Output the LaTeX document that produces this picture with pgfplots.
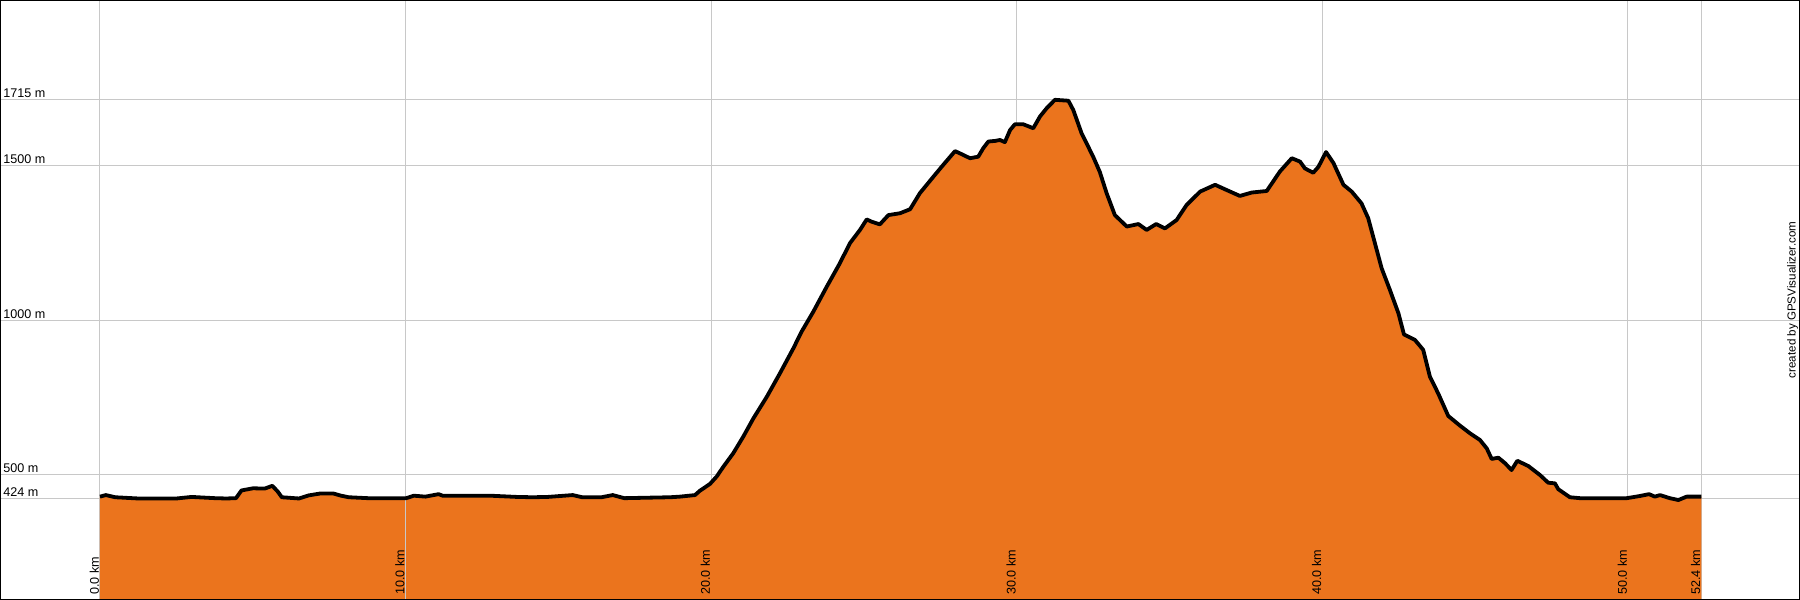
\documentclass[border=0pt]{standalone}
\usepackage{pgfplots}
\usepackage{pgfplotstable}
\pgfplotsset{compat=1.18}
\usepackage{fontspec}
\setmainfont{Liberation Sans}
\definecolor{fillor}{RGB}{235,116,29}
\definecolor{gridc}{RGB}{200,200,200}
\pgfplotstableread{
km elev
0 430
0.19 435
0.50 428
1.25 424
2.50 424
3.00 429
3.76 425
4.13 424
4.45 425
4.63 450
5.01 457
5.39 456
5.64 465
5.82 446
5.95 428
6.51 424
6.83 434
7.20 440
7.64 440
7.89 433
8.14 428
8.77 425
10.02 425
10.27 433
10.65 430
11.08 438
11.21 433
11.90 433
12.77 433
13.65 429
14.15 428
14.65 429
15.47 435
15.78 428
16.41 428
16.78 435
17.16 425
18.66 428
18.98 430
19.47 435
19.63 449
19.96 471
20.18 495
20.40 527
20.72 570
21.05 624
21.38 683
21.82 753
22.25 829
22.69 910
22.96 964
23.34 1028
23.78 1109
24.21 1185
24.54 1250
24.87 1293
25.09 1327
25.24 1320
25.52 1311
25.80 1341
26.18 1347
26.51 1360
26.83 1412
27.27 1465
27.59 1503
27.98 1548
28.20 1538
28.47 1525
28.74 1530
28.90 1557
29.07 1579
29.29 1581
29.45 1584
29.61 1577
29.78 1616
29.94 1635
30.21 1635
30.54 1622
30.76 1660
30.98 1687
31.25 1714
31.69 1711
31.85 1681
32.12 1606
32.50 1530
32.72 1480
32.94 1412
33.21 1341
33.60 1304
33.98 1312
34.25 1293
34.56 1312
34.85 1298
35.23 1325
35.56 1374
36.00 1417
36.49 1439
36.87 1422
37.30 1403
37.69 1414
38.18 1419
38.61 1482
39.00 1525
39.27 1514
39.43 1492
39.70 1478
39.87 1497
40.12 1545
40.36 1510
40.69 1439
40.96 1417
41.28 1379
41.50 1331
41.72 1250
41.94 1169
42.21 1099
42.49 1023
42.67 955
43.03 937
43.30 905
43.52 818
43.79 764
44.12 691
44.50 660
44.83 635
45.16 613
45.38 586
45.54 552
45.76 556
45.98 538
46.19 516
46.38 546
46.74 529
47.12 500
47.39 475
47.61 473
47.72 454
48.10 428
48.43 425
49.96 425
50.39 432
50.69 438
50.88 430
51.05 435
51.37 425
51.65 419
51.92 430
52.40 430
}\prof
\newcommand{\lbl}{\fontsize{6.3}{7}\selectfont}
\begin{document}
\begin{tikzpicture}
\begin{axis}[
 at={(0,0)}, anchor=south west,
 scale only axis, width=900pt, height=300pt,
 xmin=-3.272, xmax=55.63, ymin=95.5, ymax=2037,
 xtick={0,10,20,30,40,50,52.4}, ytick={424,500,1000,1500,1715},
 xticklabels={}, yticklabels={}, major tick length=0pt,
 grid=major, grid style={gridc, line width=0.5pt},
 axis line style={black, line width=1pt},
 clip=true,
]
\addplot[fill=fillor, draw=none] table[x=km,y=elev] {\prof} \closedcycle;
\draw[gridc, line width=0.5pt] (axis cs:10,95.5) -- (axis cs:10,424);
\addplot[black, line width=1.9pt, line join=round] table[x=km,y=elev] {\prof};
\pgfplotsinvokeforeach{424,500,1000,1500,1715}{
  \node[anchor=base west, inner sep=0pt, font=\lbl] at ([xshift=1.5pt,yshift=1pt]axis cs:-3.272,#1) {#1 m};
}
\node[rotate=90, anchor=base west, inner sep=0pt, font=\lbl] at ([xshift=-0.6pt,yshift=2.5pt]axis cs:0,95.5) {0.0 km};
\node[rotate=90, anchor=base west, inner sep=0pt, font=\lbl] at ([xshift=-0.6pt,yshift=2.5pt]axis cs:10,95.5) {10.0 km};
\node[rotate=90, anchor=base west, inner sep=0pt, font=\lbl] at ([xshift=-0.6pt,yshift=2.5pt]axis cs:20,95.5) {20.0 km};
\node[rotate=90, anchor=base west, inner sep=0pt, font=\lbl] at ([xshift=-0.6pt,yshift=2.5pt]axis cs:30,95.5) {30.0 km};
\node[rotate=90, anchor=base west, inner sep=0pt, font=\lbl] at ([xshift=-0.6pt,yshift=2.5pt]axis cs:40,95.5) {40.0 km};
\node[rotate=90, anchor=base west, inner sep=0pt, font=\lbl] at ([xshift=-0.6pt,yshift=2.5pt]axis cs:50,95.5) {50.0 km};
\node[rotate=90, anchor=base west, inner sep=0pt, font=\lbl] at ([xshift=-0.6pt,yshift=2.5pt]axis cs:52.4,95.5) {52.4 km};
\node[rotate=90, anchor=base, inner sep=0pt, font=\fontsize{5.8}{7}\selectfont] at (rel axis cs:0.9975,0.5) {created by GPSVisualizer.com};
\end{axis}
\draw[black, line width=1pt] (0,0) rectangle (900pt,300pt);
\pgfresetboundingbox
\path[use as bounding box] (0,0) rectangle (900pt,300pt);
\end{tikzpicture}
\end{document}
